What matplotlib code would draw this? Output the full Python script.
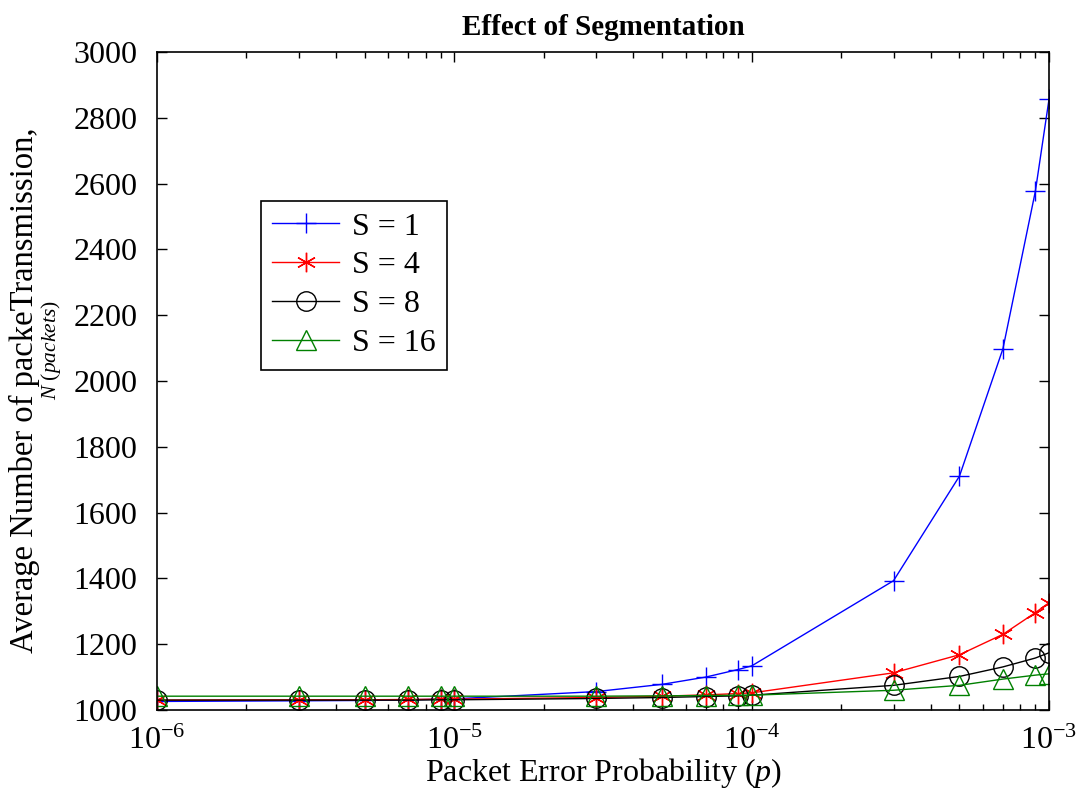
import matplotlib
matplotlib.use('Agg')
import matplotlib.pyplot as plt

plt.rcParams['font.family'] = ['Liberation Serif', 'DejaVu Serif']
plt.rcParams['mathtext.fontset'] = 'custom'
plt.rcParams['mathtext.it'] = 'Liberation Serif:italic'
plt.rcParams['mathtext.rm'] = 'Liberation Serif'

p = [1e-6, 3e-6, 5e-6, 7e-6, 9e-6, 1e-5, 3e-5, 5e-5, 7e-5, 9e-5,
     1e-4, 3e-4, 5e-4, 7e-4, 9e-4, 1e-3]

s1 = [1026, 1028, 1029, 1031, 1033, 1034, 1056, 1078, 1100, 1123,
      1134, 1393, 1711, 2098, 2577, 2856]
s4 = [1030, 1031, 1031, 1032, 1033, 1033, 1038, 1042, 1046, 1050,
      1052, 1113, 1168, 1230, 1296, 1326]
s8 = [1030, 1030, 1030, 1030, 1031, 1031, 1035, 1038, 1041, 1043,
      1045, 1075, 1102, 1131, 1158, 1174]
s16 = [1042, 1042, 1042, 1042, 1042, 1042, 1042, 1043, 1044, 1045,
       1045, 1060, 1075, 1094, 1106, 1110]

series = [
    ("S = 1", s1, '#0000ff', '+', 'full'),
    ("S = 4", s4, '#ff0000', (6, 2, 0), 'full'),
    ("S = 8", s8, '#000000', 'o', 'none'),
    ("S = 16", s16, '#008000', '^', 'none'),
]

fig = plt.figure(figsize=(10.76, 8.01), dpi=100)
ax = fig.add_axes([0.1459, 0.1136, 0.8290, 0.8215])

for label, vals, color, mk, fs in series:
    ax.plot(p, vals, color=color, marker=mk, markersize=14, fillstyle=fs,
            markeredgewidth=1.0, linewidth=1.0, label=label)

ax.set_xscale('log')
ax.set_xlim(1e-6, 1e-3)
ax.set_ylim(1000, 3000)
ax.set_yticks(range(1000, 3001, 200))

ax.tick_params(which='both', direction='in', top=True, right=True, labelsize=23)
ax.tick_params(which='major', length=7, width=1)
ax.tick_params(which='minor', length=4, width=1)
ax.tick_params(axis='x', which='major', pad=12)
ax.tick_params(axis='y', which='major', pad=14)
for sp in ax.spines.values():
    sp.set_linewidth(1.2)

ax.set_title('Effect of Segmentation', fontsize=21, fontweight='bold', pad=12)
ax.set_xlabel('Packet Error Probability ($p$)', fontsize=23, labelpad=0)

# y label in two lines, the second one smaller as in the original
fig.text(0.023, 0.513, 'Average Number of packeTransmission,', rotation=90,
         fontsize=23.5, ha='center', va='center')
fig.text(0.047, 0.563, '$N$ $(packets)$', rotation=90,
         fontsize=15.5, ha='center', va='center')

leg = ax.legend(loc='upper left', bbox_to_anchor=(0.1166, 0.7736), borderaxespad=0,
                fontsize=23, fancybox=False, edgecolor='k', framealpha=1,
                handlelength=2.1, labelspacing=0.3, borderpad=0.35,
                handletextpad=0.4)
leg.get_frame().set_linewidth(1.2)

fig.savefig('out.png', dpi=100)
